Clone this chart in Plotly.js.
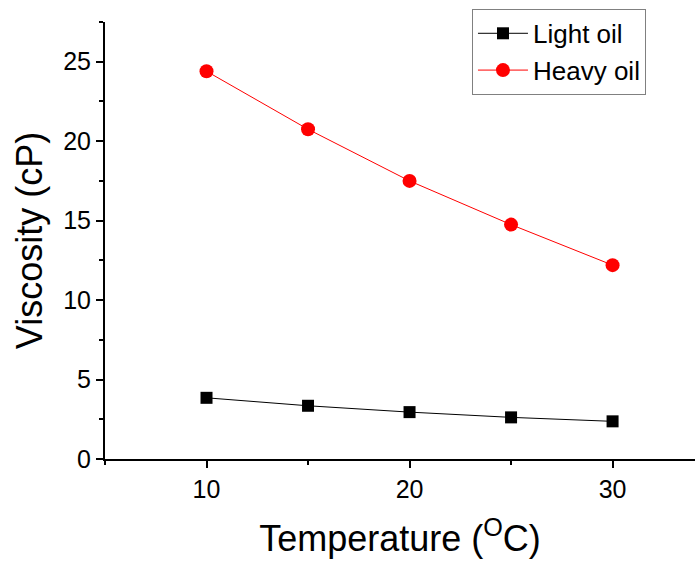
<!DOCTYPE html>
<html>
<head>
<meta charset="utf-8">
<script src="https://cdn.plot.ly/plotly-3.0.1.min.js"></script>
<style>html,body{margin:0;padding:0;background:#fff;}#chart{width:695px;height:561px;}</style>
</head>
<body>
<div id="chart"></div>
<script>
const temperature = [10, 15, 20, 25, 30];
const lightOil = [3.85, 3.35, 2.95, 2.62, 2.37];
const heavyOil = [24.4, 20.75, 17.5, 14.75, 12.2];
const seriesNames = ["Light oil", "Heavy oil"];

const font = "Arial, 'Liberation Sans', sans-serif";
const traces = [
  {x: temperature, y: lightOil, name: seriesNames[0], type: 'scatter', mode: 'lines+markers',
   line: {color: '#000000', width: 1}, marker: {symbol: 'square', size: 12, color: '#000000'}},
  {x: temperature, y: heavyOil, name: seriesNames[1], type: 'scatter', mode: 'lines+markers',
   line: {color: '#ff0000', width: 1}, marker: {symbol: 'circle', size: 14, color: '#ff0000'}}
];
const layout = {
  width: 695, height: 561,
  margin: {l: 105, r: 0, t: 22, b: 102},
  paper_bgcolor: '#fff', plot_bgcolor: '#fff',
  font: {family: font, color: '#000'},
  showlegend: true,
  legend: {x: 0.622, y: 1.03, xanchor: 'left', yanchor: 'top', bordercolor: '#808080', borderwidth: 1,
           font: {size: 26, family: font}, bgcolor: '#fff', tracegroupgap: 0, itemwidth: 50},
  xaxis: {
    range: [5, 34.06], showgrid: false, zeroline: false, showline: true, linecolor: '#000', linewidth: 2,
    ticks: 'outside', ticklen: 7, tickwidth: 2, tickcolor: '#000', dtick: 10, tick0: 0,
    minor: {dtick: 5, ticks: 'outside', ticklen: 4, tickwidth: 2, tickcolor: '#000'},
    tickfont: {size: 25, family: font},
    title: {text: 'Temperature (<sup>O</sup>C)', font: {size: 36, family: font}, standoff: 24}
  },
  yaxis: {
    range: [0, 27.5], showgrid: false, zeroline: false, showline: true, linecolor: '#000', linewidth: 2,
    ticks: 'outside', ticklen: 7, tickwidth: 2, tickcolor: '#000', dtick: 5, tick0: 0,
    minor: {dtick: 2.5, ticks: 'outside', ticklen: 4, tickwidth: 2, tickcolor: '#000'},
    tickfont: {size: 25, family: font},
    title: {text: 'Viscosity (cP)', font: {size: 36, family: font}, standoff: 10}
  }
};
Plotly.newPlot('chart', traces, layout, {displayModeBar: false, staticPlot: true});
</script>
</body>
</html>
